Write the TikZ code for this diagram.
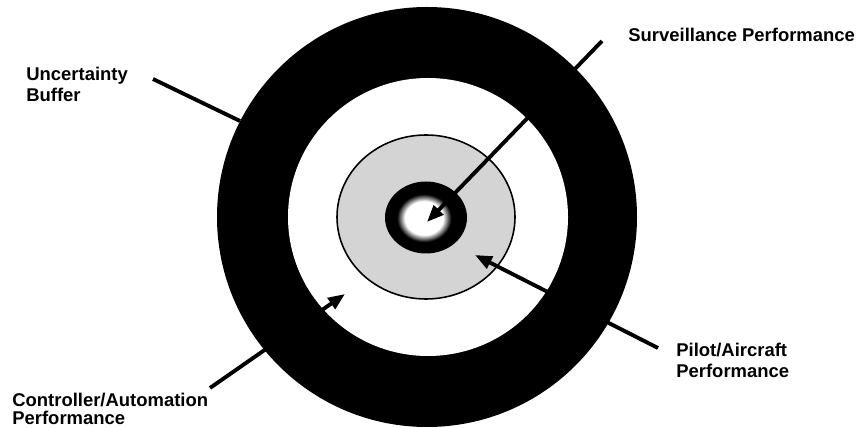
\documentclass[tikz,border=0pt]{standalone}
\usepackage{fontspec}
\setmainfont{Liberation Sans}
\usetikzlibrary{arrows.meta}
\pgfdeclareradialshading{eyespot}{\pgfpoint{0bp}{0bp}}{color(0bp)=(white); color(14bp)=(white); color(20bp)=(black); color(50bp)=(black)}

\begin{document}
\begin{tikzpicture}[x=0.02cm,y=-0.02cm,
  lbl/.style={font=\bfseries\fontsize{10.5}{11.9}\selectfont, align=left, inner sep=0pt, anchor=north west},
  lead/.style={line width=2.2pt},
  ptr/.style={line width=2.2pt, -{Triangle[length=9.6pt,width=7.4pt]}}]
\useasboundingbox (0,0) rectangle (862,428);
% target rings
\fill[black] (427,217) ellipse [x radius=210, y radius=210];
\fill[white] (428,217) ellipse [x radius=140, y radius=139];
\filldraw[fill=black!17, draw=black, line width=0.9pt] (426,217) ellipse [x radius=89, y radius=82];
\fill[black] (426,217.5) ellipse [x radius=41, y radius=36];
\shade[shading=eyespot] (424,218) ellipse [x radius=34, y radius=30];
% labels
\node[lbl] (buffer) at (26,67) {Uncertainty\\Buffer};
\node[lbl] (surv) at (628,28) {Surveillance Performance};
\node[lbl] (pilot) at (676,343) {Pilot/Aircraft\\Performance};
\node[lbl, font=\bfseries\fontsize{10.5}{10.4}\selectfont] (ctrl) at (12,393) {Controller/Automation\\Performance};
% line ends
\coordinate (B1) at (153,79);
\coordinate (B2) at (240,121);
\coordinate (S1) at (602,41);
\coordinate (S2) at (427,222);
\coordinate (P1) at (658,348);
\coordinate (P2) at (475,255);
\coordinate (C1) at (210,388);
\coordinate (C2) at (345,294);
\draw[lead] (B1) -- (B2);
\draw[ptr] (S1) -- (S2);
\draw[ptr] (P1) -- (P2);
\draw[ptr] (C1) -- (C2);
\end{tikzpicture}
\end{document}
